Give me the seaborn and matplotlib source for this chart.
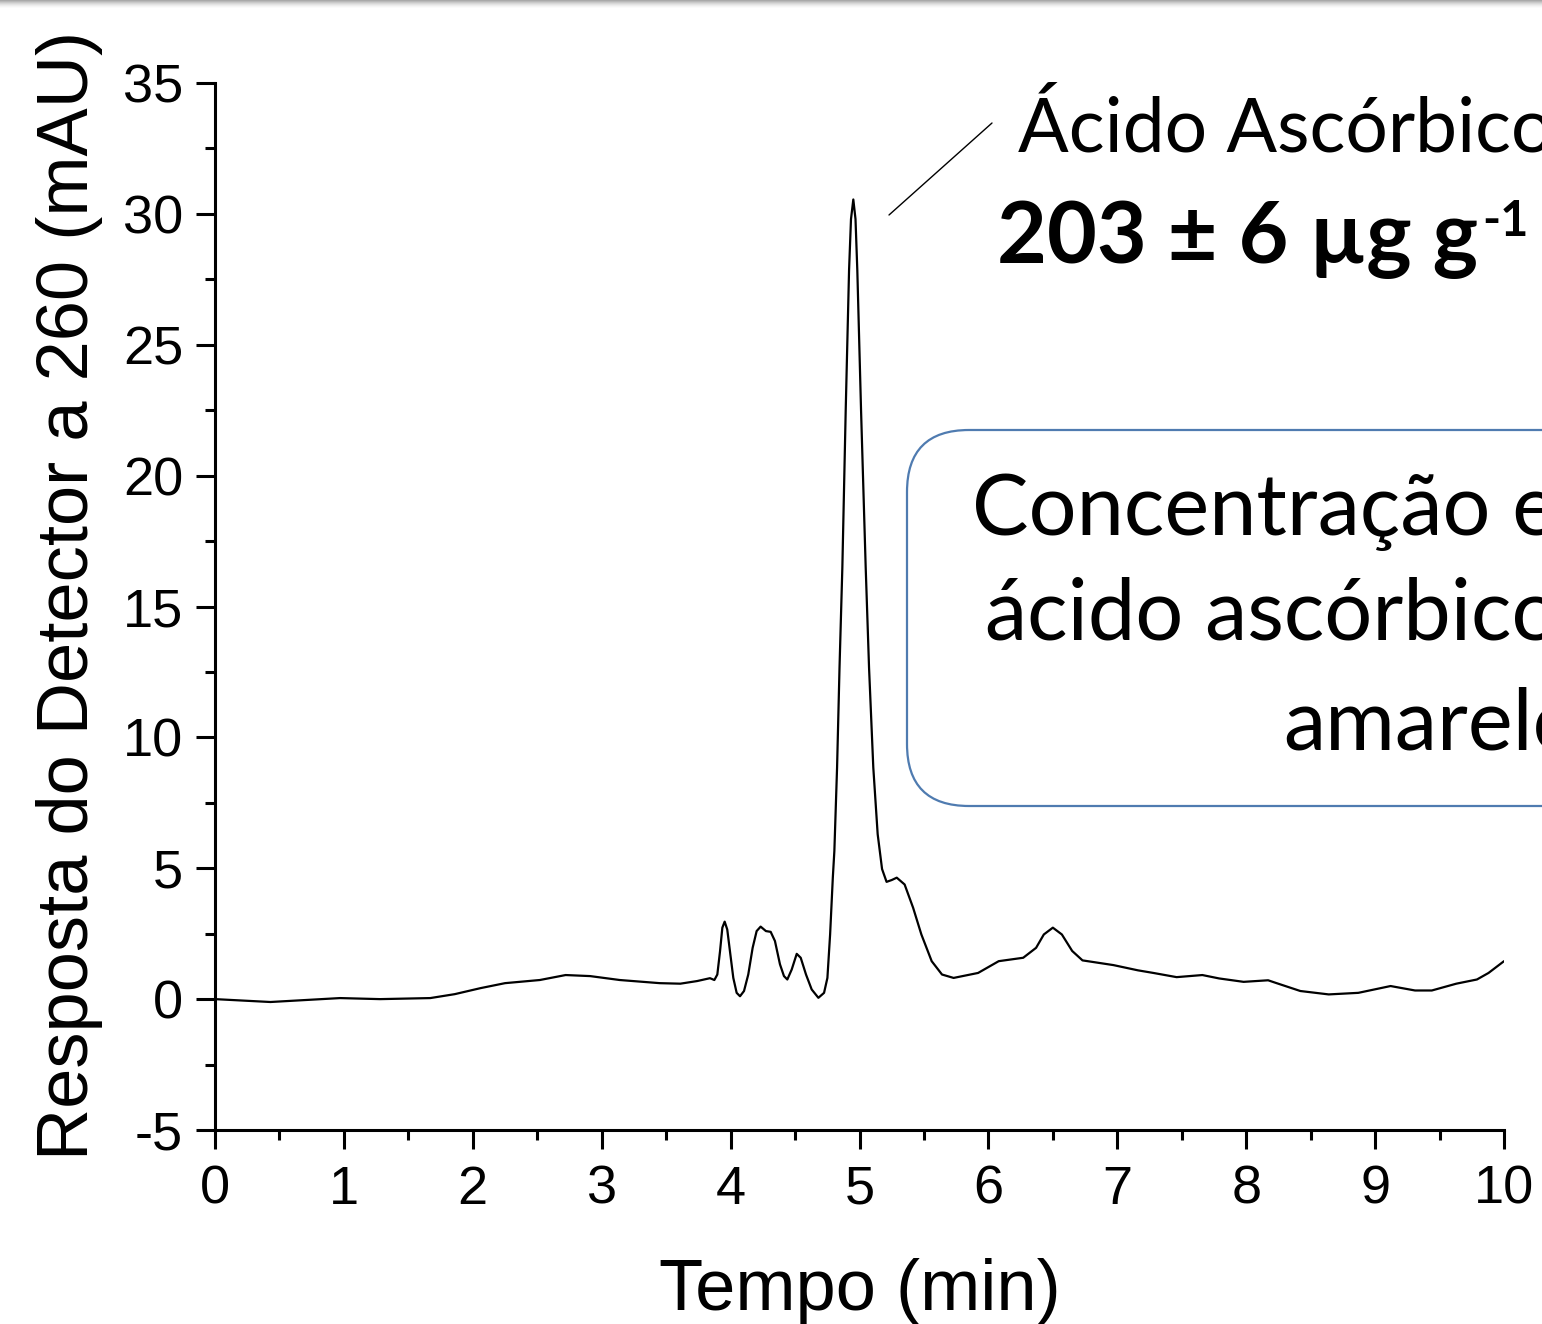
import matplotlib
matplotlib.use("Agg")
import matplotlib.pyplot as plt
from matplotlib.ticker import MultipleLocator
from matplotlib.patches import FancyBboxPatch, Rectangle
from matplotlib.lines import Line2D
import seaborn as sns
import pandas as pd

# ---- data ----
time_min = [0, 0.43, 0.97, 1.28, 1.67, 1.86, 2.06, 2.25, 2.52, 2.72,
            2.91, 3.14, 3.45, 3.61, 3.74, 3.84, 3.874, 3.897, 3.918, 3.936,
            3.954, 3.974, 3.995, 4.021, 4.047, 4.073, 4.104, 4.137, 4.171, 4.202,
            4.233, 4.274, 4.311, 4.344, 4.383, 4.414, 4.440, 4.474, 4.513, 4.544,
            4.585, 4.629, 4.681, 4.725, 4.751, 4.772, 4.793, 4.805, 4.826, 4.845,
            4.867, 4.893, 4.919, 4.934, 4.952, 4.969, 4.983, 5.012, 5.048, 5.074,
            5.107, 5.141, 5.175, 5.21, 5.25, 5.289, 5.35, 5.416, 5.48, 5.56,
            5.64, 5.73, 5.92, 6.08, 6.27, 6.37, 6.43, 6.50, 6.57, 6.65,
            6.73, 6.97, 7.16, 7.28, 7.46, 7.66, 7.79, 7.98, 8.17, 8.23,
            8.42, 8.64, 8.87, 9.12, 9.31, 9.44, 9.63, 9.79, 9.88, 10.0]
signal_mau = [0, -0.11, 0.04, 0.0, 0.04, 0.19, 0.42, 0.61, 0.73, 0.92,
              0.88, 0.73, 0.61, 0.59, 0.69, 0.80, 0.73, 0.94, 1.83, 2.73,
              2.96, 2.66, 1.83, 0.81, 0.24, 0.11, 0.31, 0.94, 1.96, 2.60,
              2.77, 2.60, 2.57, 2.22, 1.33, 0.88, 0.75, 1.13, 1.73, 1.58,
              0.94, 0.37, 0.05, 0.24, 0.81, 2.47, 4.64, 5.66, 8.85, 12.67,
              16.5, 22.5, 27.85, 29.8, 30.55, 29.8, 27.85, 22.5, 16.5, 12.67,
              8.85, 6.3, 4.97, 4.48, 4.55, 4.64, 4.38, 3.49, 2.47, 1.45,
              0.94, 0.81, 1.0, 1.45, 1.58, 1.96, 2.47, 2.73, 2.47, 1.84,
              1.48, 1.30, 1.10, 1.0, 0.84, 0.92, 0.79, 0.66, 0.72, 0.62,
              0.31, 0.18, 0.24, 0.50, 0.33, 0.33, 0.59, 0.75, 1.0, 1.45]

x_ticks = [0, 1, 2, 3, 4, 5, 6, 7, 8, 9, 10]
y_ticks = [-5, 0, 5, 10, 15, 20, 25, 30, 35]
x_label = "Tempo (min)"
y_label = "Resposta do Detector a 260 (mAU)"
peak_name = "Ácido Ascórbico"
peak_value = "203 ± 6 µg g"
peak_unit_sup = "-1"
box_lines = ["Concentração em", "ácido ascórbico no", "amarelo"]

df = pd.DataFrame({"t": time_min, "v": signal_mau})

sns.set_style("ticks")
plt.rcParams["font.family"] = ["Liberation Sans", "DejaVu Sans"]

W, H = 1542, 1324
fig = plt.figure(figsize=(W / 100, H / 100), dpi=100)
fig.patch.set_facecolor("white")
ax = fig.add_axes([215 / W, 1 - 1130 / H, (1504 - 215) / W, (1130 - 83) / H])
ax.set_facecolor("white")

sns.lineplot(data=df, x="t", y="v", ax=ax, color="black", linewidth=1.6,
             estimator=None, sort=False)

ax.set_xlim(0, 10)
ax.set_ylim(-5, 35)
ax.set_xticks(x_ticks)
ax.set_yticks(y_ticks)
ax.set_xticklabels([str(v) for v in x_ticks])
ax.set_yticklabels([str(v) for v in y_ticks])
ax.xaxis.set_minor_locator(MultipleLocator(0.5))
ax.yaxis.set_minor_locator(MultipleLocator(2.5))
for s in ["top", "right"]:
    ax.spines[s].set_visible(False)
for s in ["left", "bottom"]:
    ax.spines[s].set_linewidth(2.2)
    ax.spines[s].set_color("black")
ax.tick_params(which="major", length=14, width=2.2, direction="out",
               color="black", labelsize=39, labelcolor="black")
ax.tick_params(which="minor", length=7, width=2.2, direction="out", color="black")
ax.tick_params(axis="y", which="major", pad=9)
ax.tick_params(axis="x", which="major", pad=11)

ax.set_xlabel(x_label, fontsize=52, color="black")
ax.set_ylabel(y_label, fontsize=52, color="black")
ax.xaxis.label.set_verticalalignment("baseline")
ax.xaxis.set_label_coords((860 - 215) / 1289, (H - 1310 - (H - 1130)) / 1047)
ax.yaxis.label.set_verticalalignment("center")
ax.yaxis.set_label_coords((70 - 215) / 1289, ((H - 595) - (H - 1130)) / 1047)

# annotation texts (Calibri-like)
afont = ["Lato", "DejaVu Sans"]
fig.add_artist(Line2D([889 / W, 992 / W], [1 - 215 / H, 1 - 123 / H],
                      transform=fig.transFigure, color="black", linewidth=1.0))
fig.text(1018 / W, 1 - 152 / H, peak_name, family=afont, fontsize=54,
         ha="left", va="baseline", color="black")
val = fig.text(997 / W, 1 - 263 / H, peak_value, family=afont, fontsize=62,
               fontweight="bold", ha="left", va="baseline", color="black")
fig.canvas.draw()
bb = val.get_window_extent(renderer=fig.canvas.get_renderer())
fig.text((bb.x1 + 4) / W, 1 - 236 / H, peak_unit_sup, family=afont, fontsize=35,
         fontweight="bold", ha="left", va="baseline", color="black")

box = FancyBboxPatch((907, H - 806), 900, 376,
                     boxstyle="round,pad=0,rounding_size=62",
                     transform=None, facecolor="white", edgecolor="#4F7BB0",
                     linewidth=1.6)
fig.add_artist(box)
box_x = [972, 985, 1283]
box_y = [535, 640, 750]
for txt, bx, by in zip(box_lines, box_x, box_y):
    fig.text(bx / W, 1 - by / H, txt, family=afont, fontsize=61,
             ha="left", va="baseline", color="black")

# slide shadow strip at the top
shades = ["#a9a9a9", "#b9b9b9", "#c9c9c9", "#d7d7d7", "#e3e3e3", "#ededed", "#f5f5f5", "#fbfbfb"]
for i, c in enumerate(shades):
    fig.add_artist(Rectangle((0, 1 - (i + 1) / H), 1, 1 / H, transform=fig.transFigure,
                             facecolor=c, edgecolor="none"))

fig.savefig("out.png", dpi=100, facecolor="white")
